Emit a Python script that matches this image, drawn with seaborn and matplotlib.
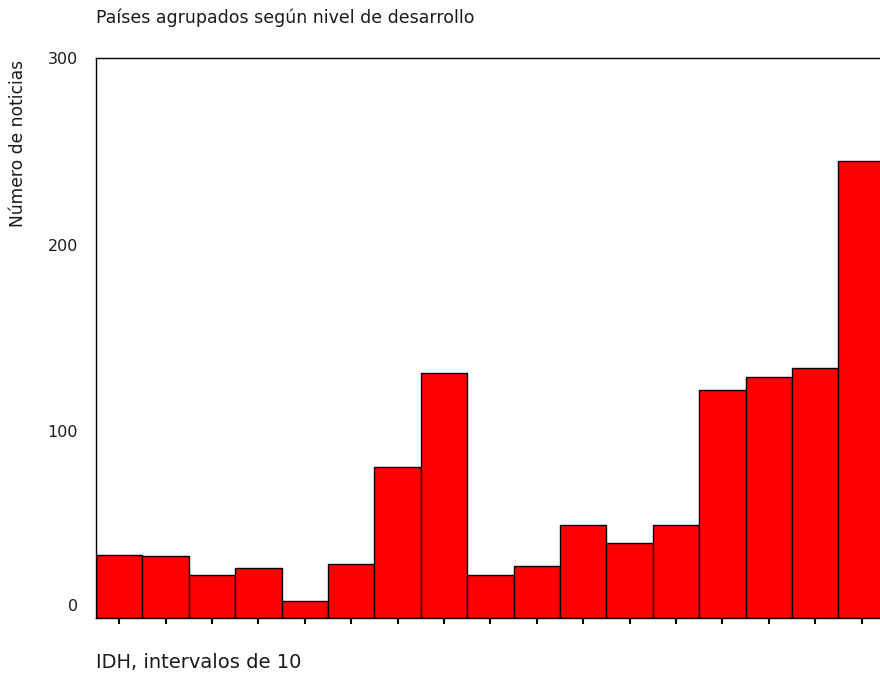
import matplotlib
matplotlib.use("Agg")
import matplotlib.pyplot as plt
import matplotlib.transforms as mtransforms
import seaborn as sns
import pandas as pd

categories = [f"{i}" for i in range(1, 18)]
values = [34, 33, 23, 27, 9, 29, 81, 131, 23, 28, 50, 40, 50, 122, 129, 134, 245]

title = "Países agrupados según nivel de desarrollo"
ylabel = "Número de noticias"
xlabel = "IDH, intervalos de 10"
yticks = [0, 100, 200, 300]

sns.set_theme(style="white")
plt.rcParams['font.family'] = ['DejaVu Sans']

df = pd.DataFrame({"cat": categories, "val": values})

fig = plt.figure(figsize=(8.8, 6.77), dpi=100)
W, H = 880, 677
left, right = 96, 96 + 17 * 46.4
top, bottom = 58, 618
ax = fig.add_axes([left / W, 1 - bottom / H, (right - left) / W, (bottom - top) / H])

sns.barplot(data=df, x="cat", y="val", color="#ff0000", saturation=1,
            width=1.0, edgecolor="black", linewidth=1.0, ax=ax)

txtc = "#1a1a1a"
ax.set_xlim(-0.5, 16.5)
ax.set_ylim(0, 300)
ax.set_yticks(yticks)
ax.set_yticklabels([str(t) for t in yticks], fontsize=11.5, color=txtc)
ax.set_xticklabels([])
ax.set_xlabel("")
ax.set_ylabel("")
ax.tick_params(axis="x", direction="out", length=4, width=1.5, color="black", bottom=True)
ax.tick_params(axis="y", length=0, pad=13)
for s in ["left", "top", "bottom"]:
    ax.spines[s].set_visible(True)
    ax.spines[s].set_color("black")
    ax.spines[s].set_linewidth(1.0)
ax.spines["right"].set_visible(False)

# the "0" label sits slightly above the baseline in the reference
zero_lbl = ax.get_yticklabels()[0]
zero_lbl.set_transform(zero_lbl.get_transform() +
                       mtransforms.ScaledTranslation(0, 13 / 100, fig.dpi_scale_trans))

fig.text(96 / W, 1 - 18 / H, title, fontsize=12.5, color=txtc, ha="left", va="center")
fig.text(96 / W, 1 - 663 / H, xlabel, fontsize=14, color=txtc, ha="left", va="center")
fig.text(18 / W, 1 - 60 / H, ylabel, fontsize=12.3, color=txtc, rotation=90, ha="center", va="top")

fig.savefig("out.png", dpi=100)
